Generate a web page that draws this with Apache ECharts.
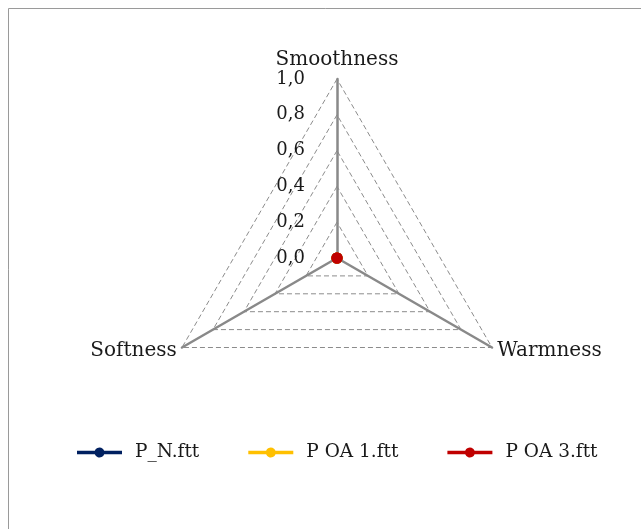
<!DOCTYPE html>
<html><head><meta charset="utf-8">
<script src="https://cdn.jsdelivr.net/npm/echarts@6/dist/echarts.min.js"></script>
<style>html,body{margin:0;padding:0;background:#fff}#c{width:641px;height:529px}</style>
</head><body><div id="c"></div>
<script>
const indicatorNames = ['Smoothness', 'Softness', 'Warmness'];
const indicatorMax = 1;
const tickLabels = ['0,0', '0,2', '0,4', '0,6', '0,8', '1,0'];
const seriesNames = ['P_N.ftt', 'P OA 1.ftt', 'P OA 3.ftt'];
const seriesColors = ['#002060', '#FFC000', '#C00000'];
const valuesPN = [0, 0, 0];
const valuesPOA1 = [0, 0, 0];
const valuesPOA3 = [0, 0, 0];
const seriesValues = [valuesPN, valuesPOA1, valuesPOA3];

const FONT = 'DejaVu Serif';
const iconPath = 'path://M0,3.2 L17.8,3.2 A5,5 0 0 1 27.2,3.2 L45,3.2 L45,6.8 L27.2,6.8 A5,5 0 0 1 17.8,6.8 L0,6.8 Z';

const chart = echarts.init(document.getElementById('c'), null, {renderer: 'canvas'});
chart.setOption({
  animation: false,
  backgroundColor: '#fff',
  graphic: [{
    type: 'rect', silent: true, z: -10,
    shape: {x: 8.5, y: 8.5, width: 700, height: 600},
    style: {fill: 'none', stroke: '#9a9a9a', lineWidth: 1}
  }],
  legend: {
    data: seriesNames.map((n, i) => ({name: n, icon: iconPath})),
    left: 72,
    top: 438,
    itemWidth: 45,
    itemHeight: 10,
    itemGap: 49,
    symbolKeepAspect: false,
    textStyle: {fontFamily: FONT, fontSize: 18.5, color: '#1a1a1a', padding: [0, 0, 0, 8]}
  },
  radar: {
    center: [337, 258],
    radius: 179,
    startAngle: 90,
    splitNumber: 5,
    shape: 'polygon',
    indicator: indicatorNames.map((n, i) => i === 0 ? {
      name: n, min: 0, max: indicatorMax,
      axisLabel: {show: true}
    } : {name: n, min: 0, max: indicatorMax}),
    axisName: {fontFamily: FONT, fontSize: 20, color: '#1a1a1a'},
    nameGap: 6,
    axisLine: {lineStyle: {color: '#898989', width: 2.5}},
    splitLine: {lineStyle: {color: '#8c8c8c', width: 1, type: [5, 3]}},
    splitArea: {show: false},
    axisTick: {show: false},
    axisLabel: {
      show: false,
      fontFamily: FONT, fontSize: 18, color: '#1a1a1a', margin: 32,
      formatter: function (v) { return tickLabels[Math.round(v / indicatorMax * 5)]; }
    }
  },
  series: [{
    type: 'radar',
    symbol: 'circle',
    symbolSize: 11,
    lineStyle: {width: 3},
    data: seriesValues.map((vals, i) => ({
      name: seriesNames[i],
      value: vals,
      itemStyle: {color: seriesColors[i]},
      lineStyle: {color: seriesColors[i], width: 3}
    }))
  }]
});
</script></body></html>
